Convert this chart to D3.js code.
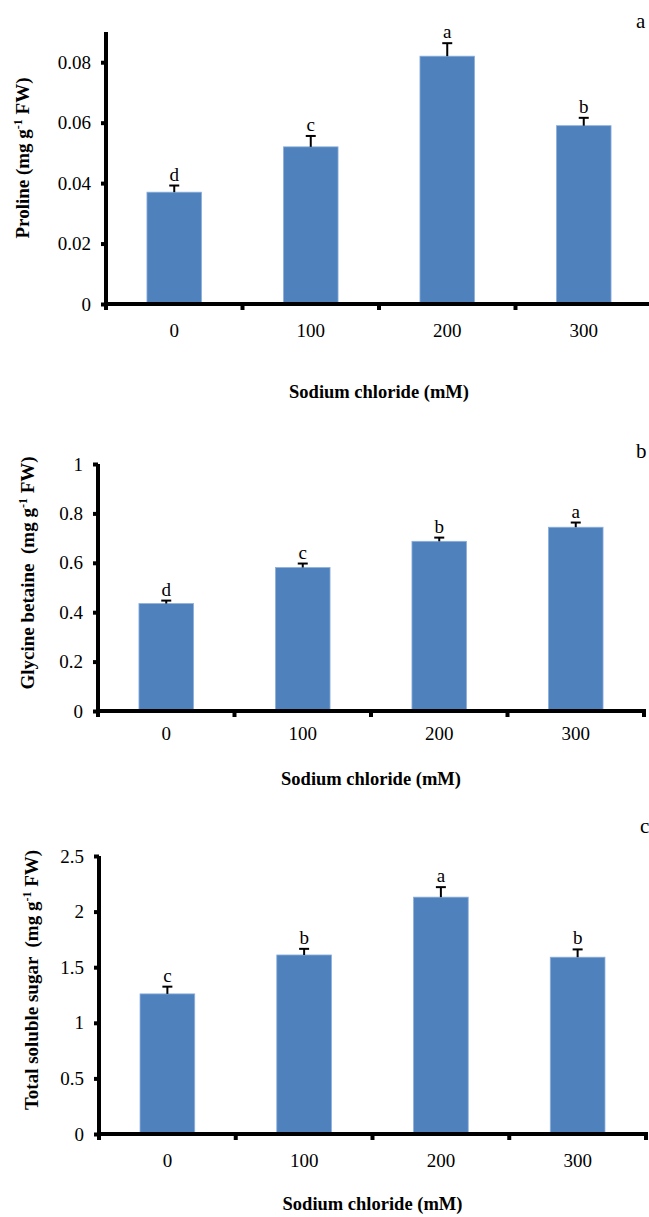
<!DOCTYPE html>
<html>
<head>
<meta charset="utf-8">
<script src="https://cdn.jsdelivr.net/npm/d3@7"></script>
<style>
  html, body { margin: 0; padding: 0; background: #fff; }
  svg { display: block; font-family: "Liberation Serif", "Times New Roman", serif; }
</style>
</head>
<body>
<svg id="chart" width="649" height="1217"></svg>
<script>
// ---- Data ----
const categories = ["0", "100", "200", "300"];

const prolineValues = [0.037, 0.052, 0.082, 0.059];
const prolineErrors = [0.0022, 0.0036, 0.0043, 0.0026];
const prolineLetters = ["d", "c", "a", "b"];
const prolineTicks = [0, 0.02, 0.04, 0.06, 0.08];
const prolineTickLabels = ["0", "0.02", "0.04", "0.06", "0.08"];

const glycineValues = [0.435, 0.581, 0.687, 0.744];
const glycineErrors = [0.012, 0.016, 0.015, 0.019];
const glycineLetters = ["d", "c", "b", "a"];
const glycineTicks = [0, 0.2, 0.4, 0.6, 0.8, 1];
const glycineTickLabels = ["0", "0.2", "0.4", "0.6", "0.8", "1"];

const sugarValues = [1.26, 1.61, 2.13, 1.59];
const sugarErrors = [0.065, 0.055, 0.09, 0.07];
const sugarLetters = ["c", "b", "a", "b"];
const sugarTicks = [0, 0.5, 1, 1.5, 2, 2.5];
const sugarTickLabels = ["0", "0.5", "1", "1.5", "2", "2.5"];

const xTitle = "Sodium chloride (mM)";

// ---- Drawing ----
const svg = d3.select("#chart");
const BAR_COLOR = "#4F81BD";

function panel(cfg) {
  const g = svg.append("g");
  const x = d3.scaleBand().domain(categories).range([cfg.x0, cfg.x1]).padding(0);
  const y = d3.scaleLinear().domain([0, cfg.yMax]).range([cfg.yBottom, cfg.yTop]);
  const barW = x.bandwidth() * 0.40;

  // bars
  g.selectAll("rect.bar").data(cfg.values).enter().append("rect")
    .attr("class", "bar")
    .attr("x", (d, i) => x(categories[i]) + x.bandwidth() / 2 - barW / 2)
    .attr("width", barW)
    .attr("y", d => y(d))
    .attr("height", d => y(0) - y(d))
    .attr("fill", BAR_COLOR)
    .attr("stroke", "#8DB0DC")
    .attr("stroke-width", 0.8);

  // error bars (upper only)
  const eb = g.selectAll("g.err").data(cfg.values).enter().append("g").attr("class", "err");
  eb.append("line")
    .attr("x1", (d, i) => x(categories[i]) + x.bandwidth() / 2)
    .attr("x2", (d, i) => x(categories[i]) + x.bandwidth() / 2)
    .attr("y1", d => y(d))
    .attr("y2", (d, i) => y(d + cfg.errors[i]))
    .attr("stroke", "#000").attr("stroke-width", 2);
  eb.append("line")
    .attr("x1", (d, i) => x(categories[i]) + x.bandwidth() / 2 - 5)
    .attr("x2", (d, i) => x(categories[i]) + x.bandwidth() / 2 + 5)
    .attr("y1", (d, i) => y(d + cfg.errors[i]))
    .attr("y2", (d, i) => y(d + cfg.errors[i]))
    .attr("stroke", "#000").attr("stroke-width", 2);

  // significance letters
  g.selectAll("text.sig").data(cfg.values).enter().append("text")
    .attr("class", "sig")
    .attr("x", (d, i) => x(categories[i]) + x.bandwidth() / 2)
    .attr("y", (d, i) => y(d + cfg.errors[i]) - 5)
    .attr("text-anchor", "middle")
    .attr("font-size", 19)
    .text((d, i) => cfg.letters[i]);

  // y axis
  const yAxis = d3.axisLeft(y).tickValues(cfg.ticks)
    .tickFormat((d, i) => cfg.tickLabels[i]).tickSize(5).tickPadding(10);
  const ya = g.append("g").attr("transform", `translate(${cfg.x0},0)`).call(yAxis);
  ya.select(".domain").attr("stroke-width", 4).attr("d", `M0,${cfg.yTop}V${cfg.yBottom + 2}`);
  ya.selectAll(".tick line").attr("stroke-width", 4);
  ya.selectAll(".tick text").attr("font-size", 19)
    .attr("font-family", "Liberation Serif, Times New Roman, serif");

  // x axis
  const xa = g.append("g").attr("transform", `translate(0,${cfg.yBottom})`);
  xa.append("line").attr("x1", cfg.x0 - 2).attr("x2", cfg.x1 + 2)
    .attr("y1", 0).attr("y2", 0).attr("stroke", "#000").attr("stroke-width", 4);
  const bounds = categories.map(c => x(c)).concat([cfg.x1]);
  xa.selectAll("line.xt").data(bounds).enter().append("line")
    .attr("class", "xt")
    .attr("x1", d => d).attr("x2", d => d)
    .attr("y1", 0).attr("y2", 6)
    .attr("stroke", "#000").attr("stroke-width", 4);
  xa.selectAll("text.xl").data(categories).enter().append("text")
    .attr("class", "xl")
    .attr("x", d => x(d) + x.bandwidth() / 2)
    .attr("y", cfg.xLabelDy)
    .attr("text-anchor", "middle")
    .attr("font-size", 19)
    .text(d => d);

  // x title
  g.append("text")
    .attr("x", (cfg.x0 + cfg.x1) / 2)
    .attr("y", cfg.yBottom + cfg.xTitleDy)
    .attr("text-anchor", "middle")
    .attr("font-size", 18.5)
    .attr("font-weight", "bold")
    .text(xTitle);

  // y title (rotated)
  const yt = g.append("text")
    .attr("transform", `translate(${cfg.yTitleX},${cfg.yTitleY}) rotate(-90)`)
    .attr("text-anchor", "middle")
    .attr("font-size", 19)
    .attr("font-weight", "bold")
    .style("white-space", "pre");
  yt.append("tspan").text(cfg.yTitle + " (mg g");
  yt.append("tspan").attr("baseline-shift", "super").attr("font-size", 12).text("-1");
  yt.append("tspan").text(" FW)");

  // panel letter
  g.append("text")
    .attr("x", cfg.panelX).attr("y", cfg.panelY)
    .attr("font-size", 21)
    .text(cfg.panel);
}

panel({
  values: prolineValues, errors: prolineErrors, letters: prolineLetters,
  ticks: prolineTicks, tickLabels: prolineTickLabels, yMax: 0.09,
  x0: 106, x1: 652, yBottom: 304, yTop: 32,
  xLabelDy: 33, xTitleDy: 94,
  yTitle: "Proline", yTitleX: 29, yTitleY: 158,
  panel: "a", panelX: 636, panelY: 28
});

panel({
  values: glycineValues, errors: glycineErrors, letters: glycineLetters,
  ticks: glycineTicks, tickLabels: glycineTickLabels, yMax: 1,
  x0: 98, x1: 644, yBottom: 711, yTop: 464,
  xLabelDy: 29, xTitleDy: 74,
  yTitle: "Glycine betaine ", yTitleX: 34, yTitleY: 573,
  panel: "b", panelX: 636, panelY: 458
});

panel({
  values: sugarValues, errors: sugarErrors, letters: sugarLetters,
  ticks: sugarTicks, tickLabels: sugarTickLabels, yMax: 2.5,
  x0: 99, x1: 646, yBottom: 1134, yTop: 856,
  xLabelDy: 33, xTitleDy: 76,
  yTitle: "Total soluble sugar ", yTitleX: 38, yTitleY: 980,
  panel: "c", panelX: 640, panelY: 833
});
</script>
</body>
</html>
